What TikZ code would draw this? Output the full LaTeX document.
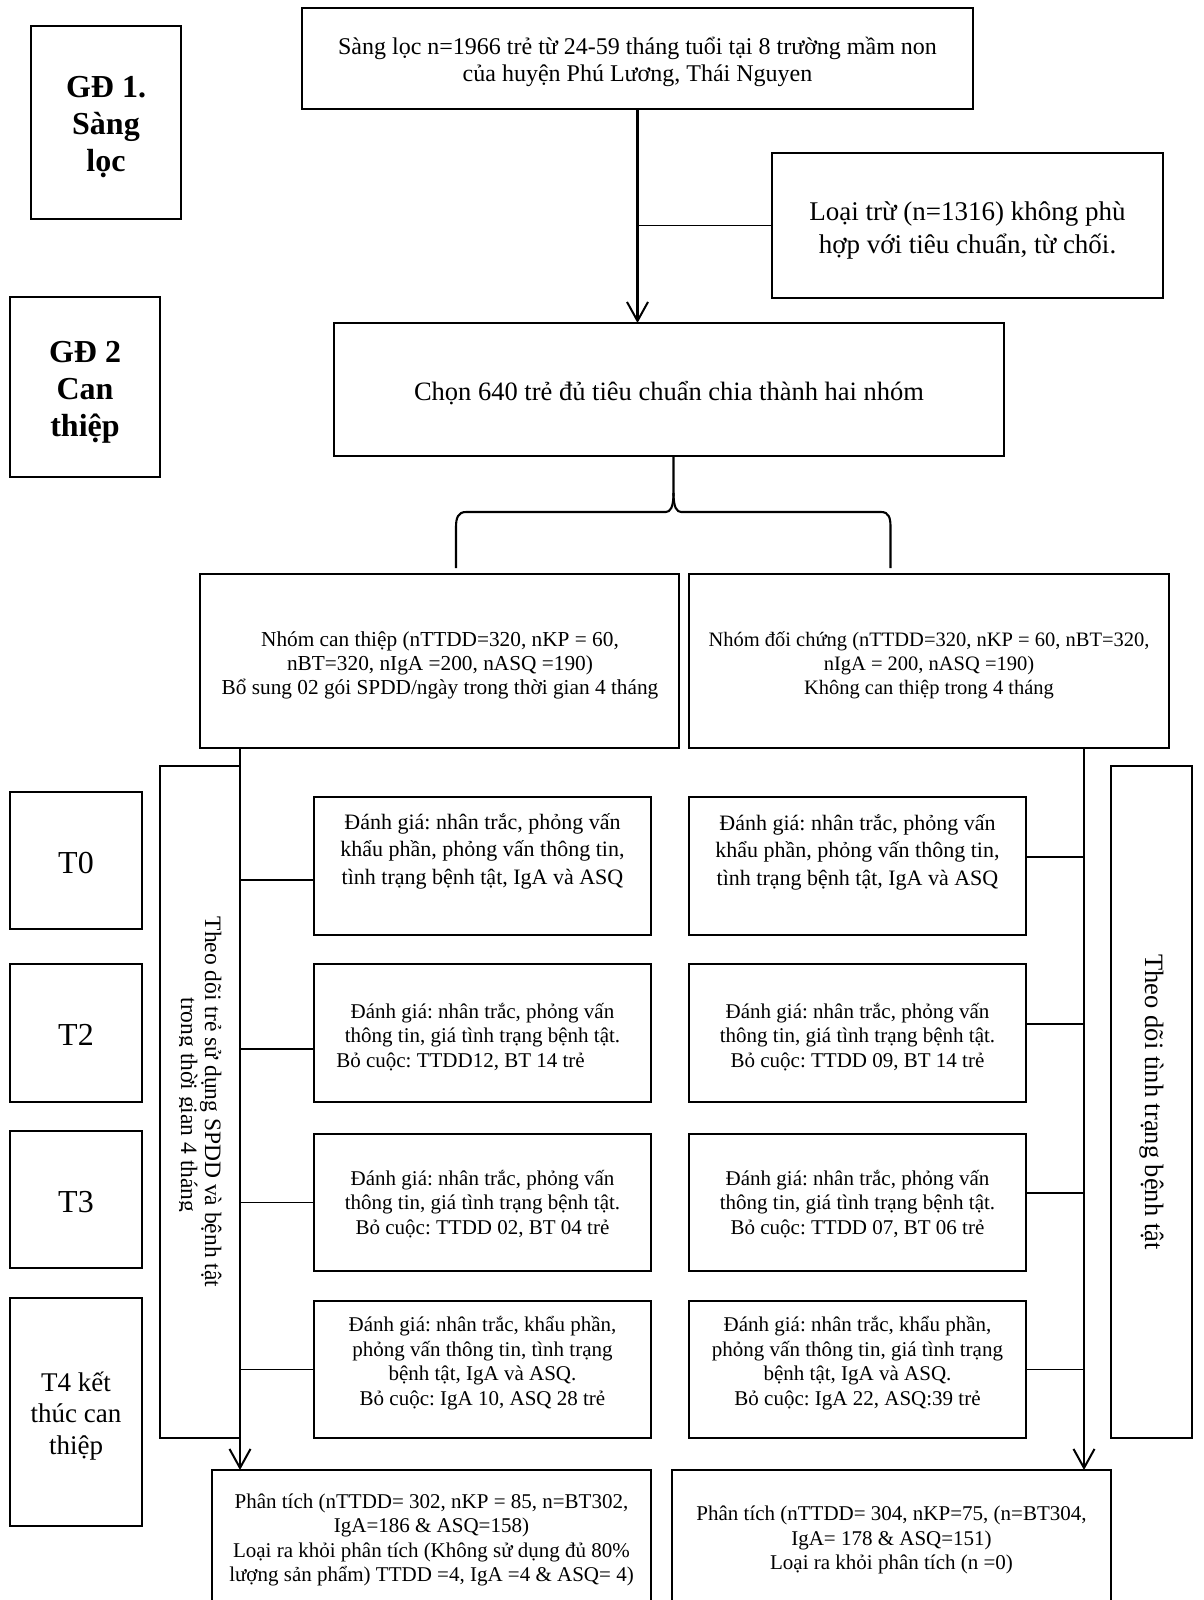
\documentclass[tikz,border=0pt]{standalone}
\usepackage{fontspec}
\setmainfont{Liberation Serif}
\usetikzlibrary{arrows.meta}
\newcommand\fz[2]{\fontsize{#1pt}{#2pt}\selectfont}
\frenchspacing

\begin{document}
\begin{tikzpicture}[x=1pt,y=-1pt,
  box/.style={draw, line width=1.2pt, inner sep=0pt, outer sep=0pt, anchor=north west},
  txt/.style={align=center, inner sep=0pt},
  arrowline/.style={line width=2.6pt, -{Straight Barb[length=19pt,width=21pt,line width=2pt]}},
  conn/.style={line width=1.8pt},
  brace/.style={line width=2.1pt}
]
\fill[white] (0,0) rectangle (1203,1600);
\useasboundingbox (0,0) rectangle (1203,1600);

% stage labels
\node[box, minimum width=150pt, minimum height=193pt] (gd1) at (31,26) {};
\node[txt, font=\fz{32}{37}\bfseries] (gd1t) at (106,127) {GĐ 1.\\Sàng\\lọc};
\node[box, minimum width=150pt, minimum height=180pt] (gd2) at (10,297) {};
\node[txt, font=\fz{32}{37}\bfseries] (gd2t) at (85,392) {GĐ 2\\Can\\thiệp};

% screening and selection
\node[box, minimum width=671pt, minimum height=101pt] (top) at (302,8) {};
\node[txt, font=\fz{24}{27.6}] (topt) at (637.5,62) {Sàng lọc n=1966 trẻ từ 24-59 tháng tuổi tại 8 trường mầm non\\của huyện Phú Lương, Thái Nguyen};
\node[box, minimum width=391pt, minimum height=145pt] (loai) at (772,153) {};
\node[txt, font=\fz{27}{33}] (loait) at (967.5,230) {Loại trừ (n=1316) không phù\\hợp với tiêu chuẩn, từ chối.};
\node[box, minimum width=670pt, minimum height=133pt] (chon) at (334,323) {};
\node[txt, font=\fz{26.5}{30}] (chont) at (669,393) {Chọn 640 trẻ đủ tiêu chuẩn chia thành hai nhóm};

\draw[arrowline] (top.south) -- (top.south |- chon.north);
\draw[conn] (loai.west) -- (loai.west -| top.south);

% split into two groups
\draw[brace] ([xshift=4.5pt]chon.south) -- (673.5,493)
  .. controls (673.5,508) and (670,512) .. (665.7,512) -- (466,512)
  .. controls (458,512) and (456,518) .. (456,527) -- (456,568);
\draw[brace] (673.5,493)
  .. controls (673.5,508) and (677,512) .. (681.3,512) -- (881,512)
  .. controls (889,512) and (890.5,518) .. (890.5,527) -- (890.5,568);

\node[box, minimum width=479pt, minimum height=174pt] (nhomL) at (200,574) {};
\node[txt, font=\fz{21.3}{24}] (nhomLt) at (440,665) {Nhóm can thiệp (nTTDD=320, nKP = 60,\\nBT=320, nIgA =200, nASQ =190)\\Bổ sung 02 gói SPDD/ngày trong thời gian 4 tháng};
\node[box, minimum width=480pt, minimum height=174pt] (nhomR) at (689,574) {};
\node[txt, font=\fz{20.5}{24}] (nhomRt) at (929,665) {Nhóm đối chứng (nTTDD=320, nKP = 60, nBT=320,\\nIgA = 200, nASQ =190)\\Không can thiệp trong 4 tháng};

% time points
\node[box, minimum width=132pt, minimum height=137pt] (t0) at (10,792) {};
\node[txt, font=\fz{32}{37}] (t0t) at (76,863) {T0};
\node[box, minimum width=132pt, minimum height=138pt] (t2) at (10,964) {};
\node[txt, font=\fz{32}{37}] (t2t) at (76,1035) {T2};
\node[box, minimum width=132pt, minimum height=137pt] (t3) at (10,1131) {};
\node[txt, font=\fz{32}{37}] (t3t) at (76,1202) {T3};
\node[box, minimum width=132pt, minimum height=228pt] (t4) at (10,1298) {};
\node[txt, font=\fz{27}{31.5}] (t4t) at (76,1416) {T4 kết\\thúc can\\thiệp};

% follow-up side panels
\node[box, minimum width=80pt, minimum height=672pt] (labL) at (160,766) {};
\node[inner sep=0pt, rotate=-90, anchor=base, font=\fz{23.5}{25}] (labLa) at (205,1102) {Theo dõi trẻ sử dụng SPDD và bệnh tật};
\begin{scope}
  \clip (179,766) rectangle (240,1438);
  \node[inner sep=0pt, rotate=-90, anchor=base, font=\fz{23.5}{25}] (labLb) at (181,1105) {trong thời gian 4 tháng};
\end{scope}
\node[box, minimum width=81pt, minimum height=672pt] (labR) at (1111,766) {};
\node[inner sep=0pt, rotate=-90, anchor=base, font=\fz{26.5}{30}] (labRt) at (1145,1102) {Theo dõi tình trạng bệnh tật};

% assessments, intervention arm
\node[box, minimum width=337pt, minimum height=138pt] (el0) at (314,797) {};
\node[txt, font=\fz{22}{27.5}] (el0t) at (482.5,851) {Đánh giá: nhân trắc, phỏng vấn\\khẩu phần, phỏng vấn thông tin,\\tình trạng bệnh tật, IgA và ASQ};
\node[box, minimum width=337pt, minimum height=138pt] (el2) at (314,964) {};
\node[txt, font=\fz{21}{24.5}] (el2t) at (482.5,1037) {Đánh giá: nhân trắc, phỏng vấn\\thông tin, giá tình trạng bệnh tật.\\Bỏ cuộc: TTDD12, BT 14 trẻ\hspace*{44pt}};
\node[box, minimum width=337pt, minimum height=137pt] (el3) at (314,1134) {};
\node[txt, font=\fz{21}{24.5}] (el3t) at (482.5,1204) {Đánh giá: nhân trắc, phỏng vấn\\thông tin, giá tình trạng bệnh tật.\\Bỏ cuộc: TTDD 02, BT 04 trẻ};
\node[box, minimum width=337pt, minimum height=137pt] (el4) at (314,1301) {};
\node[txt, font=\fz{21}{24.5}] (el4t) at (482.5,1363) {Đánh giá: nhân trắc, khẩu phần,\\phỏng vấn thông tin, tình trạng\\bệnh tật, IgA và ASQ.\\Bỏ cuộc: IgA 10, ASQ 28 trẻ};

% assessments, control arm
\node[box, minimum width=337pt, minimum height=138pt] (er0) at (689,797) {};
\node[txt, font=\fz{22}{27.5}] (er0t) at (857.5,852) {Đánh giá: nhân trắc, phỏng vấn\\khẩu phần, phỏng vấn thông tin,\\tình trạng bệnh tật, IgA và ASQ};
\node[box, minimum width=337pt, minimum height=138pt] (er2) at (689,964) {};
\node[txt, font=\fz{21}{24.5}] (er2t) at (857.5,1037) {Đánh giá: nhân trắc, phỏng vấn\\thông tin, giá tình trạng bệnh tật.\\Bỏ cuộc: TTDD 09, BT 14 trẻ};
\node[box, minimum width=337pt, minimum height=137pt] (er3) at (689,1134) {};
\node[txt, font=\fz{21}{24.5}] (er3t) at (857.5,1204) {Đánh giá: nhân trắc, phỏng vấn\\thông tin, giá tình trạng bệnh tật.\\Bỏ cuộc: TTDD 07, BT 06 trẻ};
\node[box, minimum width=337pt, minimum height=137pt] (er4) at (689,1301) {};
\node[txt, font=\fz{21}{24.5}] (er4t) at (857.5,1363) {Đánh giá: nhân trắc, khẩu phần,\\phỏng vấn thông tin, giá tình trạng\\bệnh tật, IgA và ASQ.\\Bỏ cuộc: IgA 22, ASQ:39 trẻ};

% analysis
\node[box, minimum width=439pt, minimum height=132pt] (pl) at (212,1470) {};
\node[txt, font=\fz{21}{24.5}] (plt) at (431.5,1540) {Phân tích (nTTDD= 302, nKP = 85, n=BT302,\\IgA=186 \& ASQ=158)\\Loại ra khỏi phân tích (Không sử dụng đủ 80\%\\lượng sản phẩm) TTDD =4, IgA =4 \& ASQ= 4)};
\node[box, minimum width=439pt, minimum height=132pt] (pr) at (672,1470) {};
\node[txt, font=\fz{21}{24.5}] (prt) at (891.5,1540) {Phân tích (nTTDD= 304, nKP=75, (n=BT304,\\IgA= 178 \& ASQ=151)\\Loại ra khỏi phân tích (n =0)};

% main flow lines of the two arms
\coordinate (rt) at (1084,748);
\draw[arrowline] (nhomL.south -| labL.north east) -- (labL.north east |- pl.north);
\draw[arrowline] (rt) -- (rt |- pr.north);

\foreach \b/\d in {el0/-14, el2/-16, el3/0, el4/0}
  \draw[conn] ([yshift=\d pt]\b.west) -- ([yshift=\d pt]\b.west -| labL.north east);
\foreach \b/\d in {er0/9, er2/9, er3/9.5, er4/0}
  \draw[conn] ([yshift=\d pt]\b.east) -- ([yshift=\d pt]\b.east -| rt);
\end{tikzpicture}
\end{document}
